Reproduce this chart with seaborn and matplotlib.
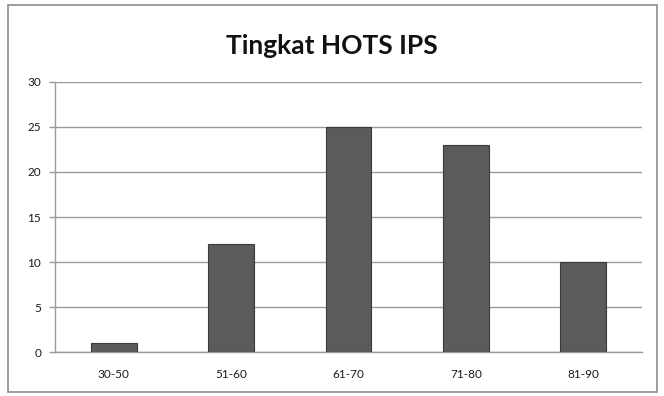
import matplotlib
matplotlib.use("Agg")
import matplotlib.pyplot as plt
import seaborn as sns
import pandas as pd
from matplotlib.patches import Rectangle

categories = ["30-50", "51-60", "61-70", "71-80", "81-90"]
counts = [1, 12, 25, 23, 10]
y_ticks = [0, 5, 10, 15, 20, 25, 30]
title = "Tingkat HOTS IPS"

sns.set_theme(style="white")
plt.rcParams["font.family"] = ["Lato", "DejaVu Sans"]

df = pd.DataFrame({"range": categories, "count": counts})

fig = plt.figure(figsize=(6.64, 3.96), dpi=100)
ax = fig.add_axes([0.083, 0.111, 0.884, 0.682])

sns.barplot(data=df, x="range", y="count", color="#5b5b5b", width=0.39,
            saturation=1, edgecolor="#3a3a3a", linewidth=0.8, ax=ax, zorder=3)

ax.set_ylim(0, 30)
ax.set_xlim(-0.5, len(categories) - 0.5)
ax.set_yticks(y_ticks)
ax.set_xlabel("")
ax.set_ylabel("")

grid_col = "#9a9a9a"
ax.yaxis.grid(True, color=grid_col, linewidth=1.0, zorder=0)
ax.xaxis.grid(False)
for side in ["top", "right"]:
    ax.spines[side].set_visible(False)
for side in ["left", "bottom"]:
    ax.spines[side].set_color(grid_col)
    ax.spines[side].set_linewidth(1.0)

ax.set_xticks([i - 0.5 for i in range(len(categories) + 1)], minor=True)
ax.tick_params(axis="x", which="major", length=0, pad=12, labelsize=8.5, colors="#1a1a1a")
ax.tick_params(axis="x", which="minor", length=4, color=grid_col, width=1.0, direction="out")
ax.tick_params(axis="y", which="major", length=4, color=grid_col, width=1.0,
               direction="out", labelsize=8.5, pad=6, colors="#1a1a1a")
ax.tick_params(axis="both", bottom=True, left=True)
ax.tick_params(axis="x", which="major", bottom=False)

fig.text(0.5, 0.885, title, ha="center", va="center", fontsize=19,
         fontweight="bold", color="#111111")

fig.patches.append(Rectangle((0.012, 0.01), 0.978, 0.977, transform=fig.transFigure,
                             fill=False, edgecolor="#8c8c8c", linewidth=1.2))

fig.savefig("out.png", dpi=100)
